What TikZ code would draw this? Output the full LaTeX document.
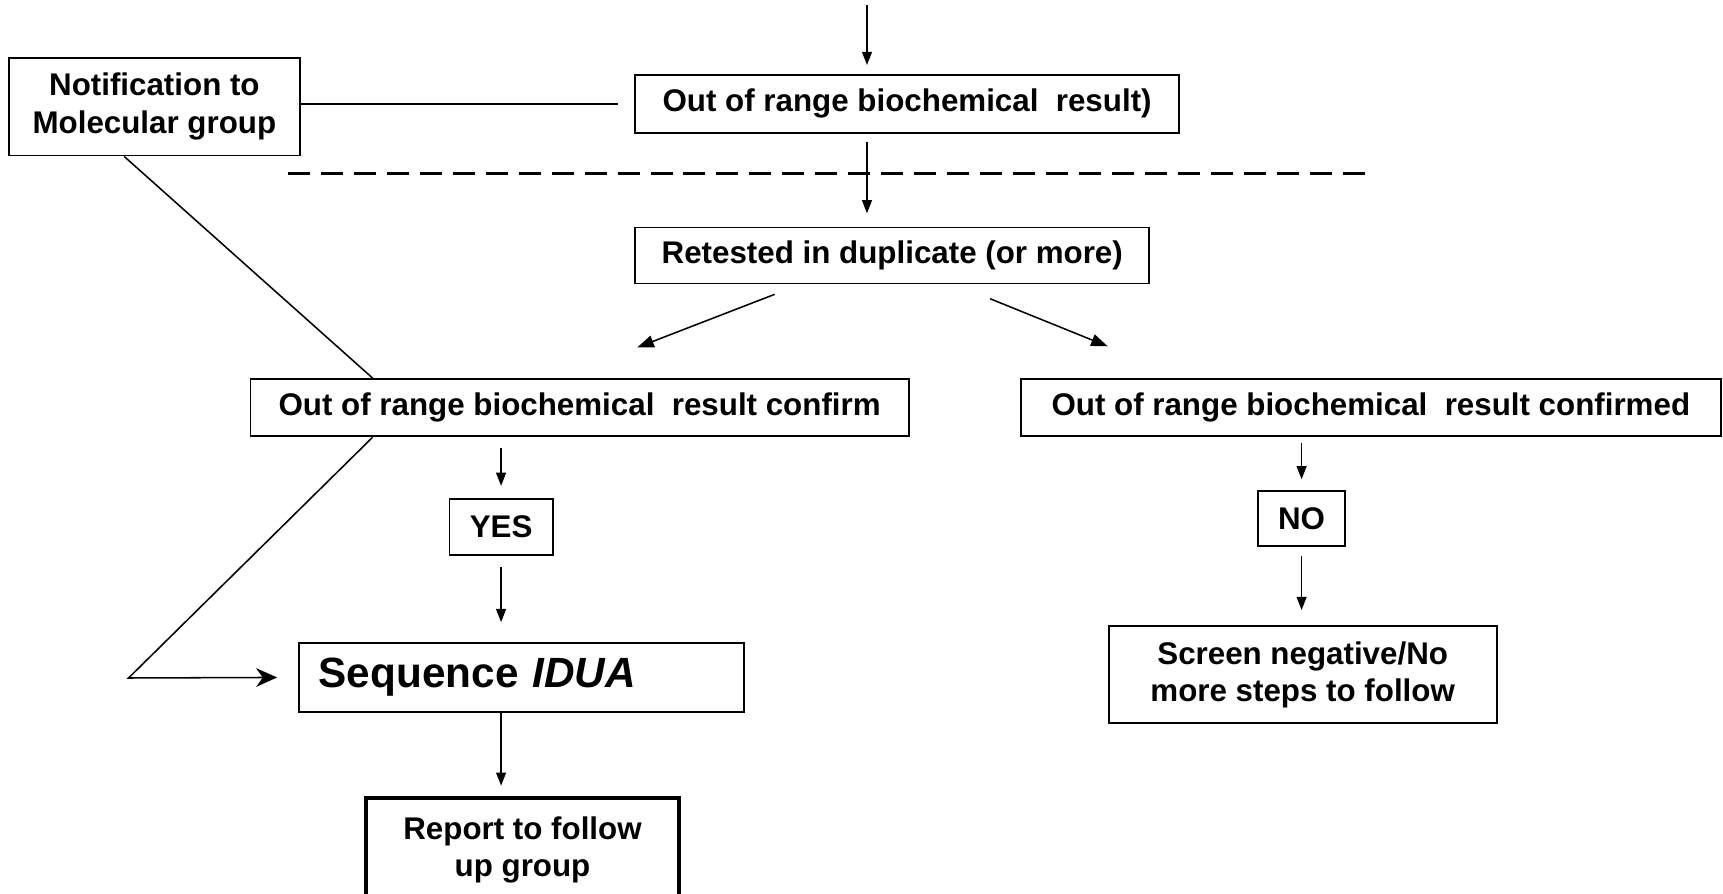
\documentclass[tikz,border=0pt]{standalone}
\usepackage{fontspec}
\setmainfont{Liberation Sans}
\usetikzlibrary{arrows.meta,calc}
\begin{document}
\begin{tikzpicture}[x=1pt,y=-1pt,
  box/.style={draw, line width=1.7pt, inner sep=0pt, align=center,
    font=\fontsize{28.5}{34}\selectfont\bfseries},
  ln/.style={line width=1.4pt},
  arr/.style={ln, -{Triangle[length=12pt,width=9pt]}},
  bigarr/.style={ln, -{Triangle[length=15pt,width=11pt]}},
  stl/.style={ln, -{Stealth[length=19pt,width=17pt,inset=6pt]}}]
\useasboundingbox (0,0) rectangle (1568,813);

% boxes
\node[box, minimum width=495pt, minimum height=53pt] (main) at (825.5,94.5) {Out of range biochemical\ \ result)};
\node[box, minimum width=265pt, minimum height=89pt] (notif) at (140.5,97) {Notification to\\Molecular group};
\node[box, minimum width=468pt, minimum height=51pt] (retest) at (812,232.5) {Retested in duplicate (or more)};
\node[box, minimum width=599pt, minimum height=52pt] (confL) at (527.5,371) {Out of range biochemical\ \ result confirm};
\node[box, minimum width=637pt, minimum height=52pt] (confR) at (1247.5,371) {Out of range biochemical\ \ result confirmed};
\node[box, minimum width=94pt, minimum height=51pt] (yes) at (456,479.5) {YES};
\node[box, minimum width=79pt, minimum height=50pt] (no) at (1184.5,472) {NO};
\node[box, inner xsep=18pt, text width=369pt, align=left, minimum height=63pt,
  font=\fontsize{38.5}{44}\selectfont\bfseries] (seq) at (474.5,616.5) {Sequence \textit{IDUA}};
\node[box, line width=4pt, minimum width=285pt, minimum height=95pt] (report) at (475.5,773.5) {Report to follow\\up group};
\node[box, minimum width=353pt, minimum height=88pt] (screen) at (1185.5,614) {Screen negative/No\\more steps to follow};

% free ends
\coordinate (top) at (789,5);
\coordinate (d1) at (262,158);
\coordinate (d2) at (1242,158);
\coordinate (bend) at (117,617);

% connectors
\draw[arr, shorten >=8pt] (top) -- (top |- main.north);
\draw[arr, shorten <=7pt, shorten >=12pt] (top |- main.south) -- (top |- retest.north);
\draw[ln, shorten <=15pt] (main.west) -- (main.west -| notif.east);
\draw[line width=2.6pt, dash pattern=on 20pt off 10pt] (d1) -- (d2);
\draw[bigarr] ($(retest.south)+(-107,9)$) -- ($(confL.north)+(52.5,-28)$);
\draw[bigarr] ($(retest.south)+(89,13)$) -- ($(confR.north)+(-239.5,-29)$);
\draw[ln] ($(notif.south)+(-27.5,0)$) -- ($(confL.north west)+(112,0)$);
\draw[stl] ($(confL.south west)+(112,0)$) -- (bend) -- ($(seq.west)+(-19,0)$);
\draw[arr, shorten <=10pt, shorten >=11pt] (yes.north |- confL.south) -- (yes.north);
\draw[arr, shorten <=10pt, shorten >=18pt] (yes.south) -- (yes.south |- seq.north);
\draw[arr, shorten >=9pt] (yes.south |- seq.south) -- (yes.south |- report.north);
\draw[arr, shorten <=5pt, shorten >=10pt] (no.north |- confR.south) -- (no.north);
\draw[arr, shorten <=8pt, shorten >=14pt] (no.south) -- (no.south |- screen.north);
\end{tikzpicture}
\end{document}
